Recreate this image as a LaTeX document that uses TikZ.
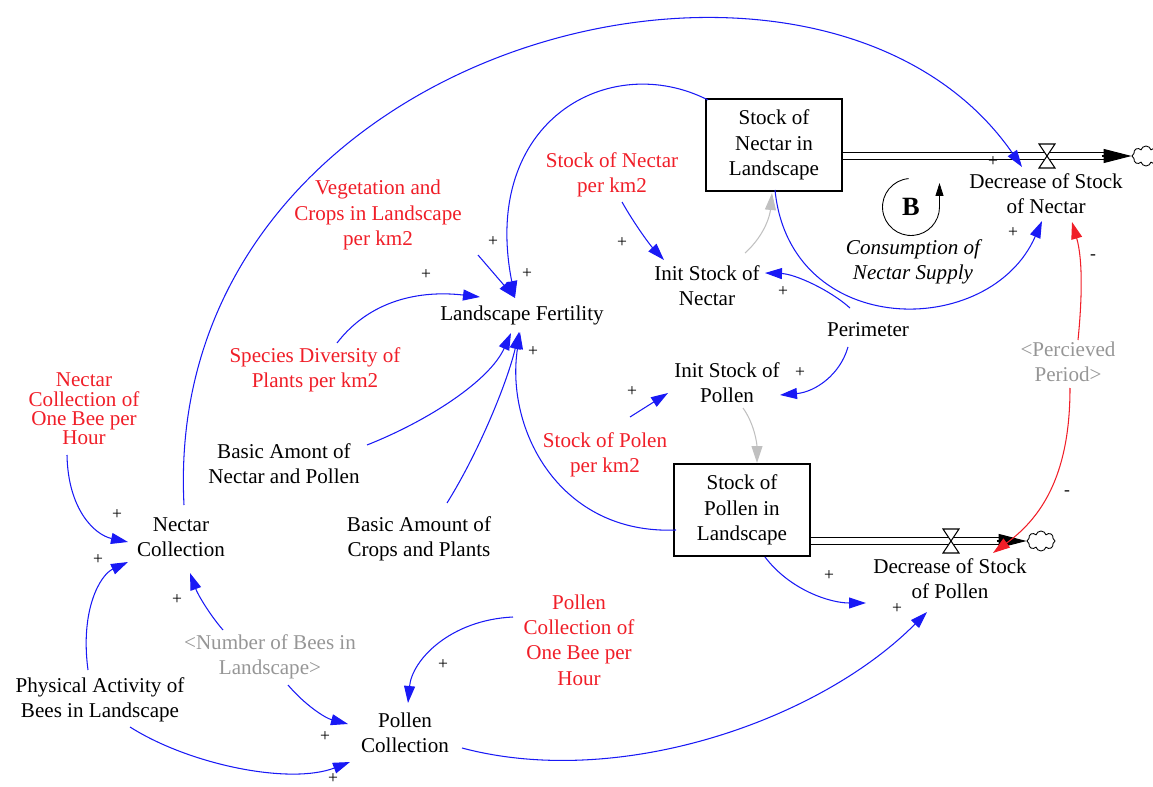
\documentclass[tikz,border=0pt]{standalone}
\usepackage{fontspec}
\setmainfont{Liberation Serif}
\usepackage{tikz}
\usetikzlibrary{arrows.meta,calc,positioning,shapes.symbols}
\definecolor{linkblue}{RGB}{25,25,245}
\definecolor{auxred}{RGB}{240,30,40}
\definecolor{ghost}{RGB}{150,150,150}
\tikzstyle{var} = [align=center, inner sep=1pt, font=\fontsize{12}{14.4}\selectfont]
\tikzstyle{aux} = [var, text=auxred]
\tikzstyle{shadowvar} = [var, text=ghost]
\tikzstyle{stock} = [var, draw, thick, minimum width=2.72cm, minimum height=1.84cm]
\tikzstyle{link} = [linkblue, line width=0.6pt, -{Triangle[length=3.4mm,width=2.2mm]}]
\tikzstyle{neglink} = [link, auxred]
\tikzstyle{greylink} = [link, ghost!60]
\tikzstyle{pol} = [inner sep=0pt, font=\fontsize{10}{11}\selectfont]
\tikzstyle{pipe} = [double, double distance=3pt, line width=0.6pt]
\tikzstyle{flowtip} = [line width=0.6pt, -{Triangle[length=5.6mm,width=2.8mm]}]
\tikzstyle{valve} = [draw, fill=white, line width=0.6pt]
\tikzstyle{sink} = [cloud, cloud puffs=8, draw, line width=0.5pt, minimum width=0.56cm, minimum height=0.4cm, inner sep=0pt]
\tikzstyle{loopar} = [line width=0.5pt, -{Triangle[length=2.6mm,width=1.6mm]}]

\begin{document}
\begin{tikzpicture}[x=0.02cm, y=-0.02cm]
\useasboundingbox (0,0) rectangle (1153,787);

% stocks and flows
\node[stock] (stockN) at (774,145) {Stock of\\Nectar in\\Landscape};
\node[stock] (stockP) at (742,510) {Stock of\\Pollen in\\Landscape};
\node[var] (decN) at (1046,194) {Decrease of Stock\\of Nectar};
\node[var] (decP) at (950,579) {Decrease of Stock\\of Pollen};
\coordinate (vN) at (1047,156);
\coordinate (vP) at (951,541);
\node[sink] (cN) at (1146,156) {};
\node[sink] (cP) at (1041,541) {};

\draw[pipe] (stockN.east |- vN) -- ($(cN.west)+(-26,0)$);
\draw[flowtip] ($(cN.west)+(-30,0)$) -- (cN.west);
\draw[valve] ($(vN)+(-8,-12)$) -- ++(16,0) -- ++(-16,24) -- ++(16,0) -- cycle;
\draw[pipe] (stockP.east |- vP) -- ($(cP.west)+(-26,0)$);
\draw[flowtip] ($(cP.west)+(-30,0)$) -- (cP.west);
\draw[valve] ($(vP)+(-8,-12)$) -- ++(16,0) -- ++(-16,24) -- ++(16,0) -- cycle;

% variables
\node[var] (initN) at (707,286) {Init Stock of\\Nectar};
\node[var] (initP) at (727,383) {Init Stock of\\Pollen};
\node[var] (perim) at (868,330) {Perimeter};
\node[shadowvar] (perc) at (1068,362) {<Percieved\\Period>};
\node[var] (fert) at (522,315) {Landscape Fertility};
\node[aux] (nkm) at (612,175) {Stock of Nectar\\per km2};
\node[aux] (veg) at (378,215) {Vegetation and\\Crops in Landscape\\per km2};
\node[aux] (spec) at (315,370) {Species Diversity of\\Plants per km2};
\node[aux] (pkm) at (605,455) {Stock of Polen\\per km2};
\node[aux, font=\fontsize{12}{11}\selectfont] (nbee) at (84,409) {Nectar\\Collection of\\One Bee per\\Hour};
\node[var] (amont) at (284,464) {Basic Amont of\\Nectar and Pollen};
\node[var] (crops) at (419,539) {Basic Amount of\\Crops and Plants};
\node[var] (ncoll) at (181,537) {Nectar\\Collection};
\node[shadowvar] (bees) at (270,657) {<Number of Bees in\\Landscape>};
\node[var] (phys) at (100,700) {Physical Activity of\\Bees in Landscape};
\node[var] (pcoll) at (405,733) {Pollen\\Collection};
\node[aux] (pbee) at (579,640) {Pollen\\Collection of\\One Bee per\\Hour};
\node[var, font=\itshape\fontsize{12}{14.4}\selectfont] (cons) at (913,262) {Consumption of\\Nectar Supply};

% loop marker
\node[inner sep=0pt, font=\bfseries\fontsize{15}{16}\selectfont] (loopB) at (911,207) {B};
\draw[loopar] ([shift={(95:5.7mm)}]loopB.center) arc[start angle=95, end angle=360, radius=5.7mm] -- ++(0,-24);

% links into Landscape Fertility
\draw[link] ($(stockN)+(-66,-45)$) .. controls (610,50) and (480,120) .. ($(fert)+(-7,-17)$);
\draw[link] ($(veg)+(100,40)$) -- ($(fert)+(-7,-17)$);
\draw[link] ($(spec)+(22,-27)$) .. controls (370,300) and (420,290) .. ($(fert)+(-42,-18)$);
\draw[link] ($(amont)+(83,-19)$) .. controls (430,420) and (490,380) .. ($(fert)+(-11,18)$);
\draw[link] ($(crops)+(28,-36)$) .. controls (480,450) and (508,380) .. ($(fert)+(-3,17)$);
\draw[link] ($(stockP)+(-66,20)$) .. controls (560,535) and (505,430) .. ($(fert)+(-2,17)$);

% links into the init stocks
\draw[link] ($(nkm)+(10,27)$) .. controls (635,225) and (650,245) .. ($(initN)+(-43,-26)$);
\draw[link] ($(perim)+(-18,-22)$) .. controls (830,290) and (795,274) .. ($(initN)+(58,-13)$);
\draw[link] ($(perim)+(-20,17)$) .. controls (840,375) and (815,392) .. ($(initP)+(53,12)$);
\draw[link] ($(pkm)+(25,-38)$) -- ($(initP)+(-59,10)$);
\draw[greylink] ($(initN)+(38,-33)$) .. controls (765,235) and (770,215) .. ($(stockN)+(-2,48)$);
\draw[greylink] ($(initP)+(16,25)$) .. controls (755,425) and (757,445) .. ($(stockP)+(15,-47)$);

% links into the decrease flows
\draw[link] ($(ncoll)+(3,-32)$) .. controls (160,40) and (820,-125) .. ($(decN)+(-24,-27)$);
\draw[link] ($(stockN)+(1,45)$) .. controls (790,340) and (990,340) .. ($(decN)+(-4,27)$);
\draw[neglink] ($(perc)+(10,-22)$) .. controls (1082,300) and (1083,260) .. ($(decN)+(26,28)$);
\draw[link] ($(stockP)+(23,47)$) .. controls (790,590) and (830,603) .. ($(decP)+(-84,24)$);
\draw[link] ($(pcoll)+(57,15)$) .. controls (620,790) and (820,720) .. ($(decP)+(-23,33)$);
\draw[neglink] ($(perc)+(2,26)$) .. controls (1070,470) and (1045,515) .. ($(decP)+(43,-26)$);

% links into the collections
\draw[link] ($(nbee)+(-17,46)$) .. controls (68,510) and (95,535) .. ($(ncoll)+(-53,5)$);
\draw[link] ($(phys)+(-12,-30)$) .. controls (80,610) and (100,575) .. ($(ncoll)+(-53,25)$);
\draw[link] ($(bees)+(-47,-27)$) .. controls (210,615) and (198,595) .. ($(ncoll)+(9,36)$);
\draw[link] ($(bees)+(18,28)$) .. controls (305,705) and (325,718) .. ($(pcoll)+(-57,-9)$);
\draw[link] ($(phys)+(30,27)$) .. controls (190,765) and (290,785) .. ($(pcoll)+(-55,29)$);
\draw[link] ($(pbee)+(-66,-23)$) .. controls (450,620) and (412,660) .. ($(pcoll)+(3,-30)$);

% polarities
\node[pol] (s1) at (993,162) {+};
\node[pol] (s2) at (1013,233) {+};
\node[pol] (s3) at (783,292) {+};
\node[pol] (s4) at (1093,257) {-};
\node[pol] (s5) at (622,243) {+};
\node[pol] (s6) at (493,242) {+};
\node[pol] (s7) at (527,274) {+};
\node[pol] (s8) at (426,275) {+};
\node[pol] (s9) at (533,352) {+};
\node[pol] (s10) at (800,373) {+};
\node[pol] (s11) at (632,392) {+};
\node[pol] (s12) at (1067,493) {-};
\node[pol] (s13) at (829,576) {+};
\node[pol] (s14) at (897,609) {+};
\node[pol] (s15) at (117,515) {+};
\node[pol] (s16) at (98,560) {+};
\node[pol] (s17) at (177,600) {+};
\node[pol] (s18) at (325,737) {+};
\node[pol] (s19) at (333,779) {+};
\node[pol] (s20) at (443,665) {+};
\end{tikzpicture}
\end{document}
